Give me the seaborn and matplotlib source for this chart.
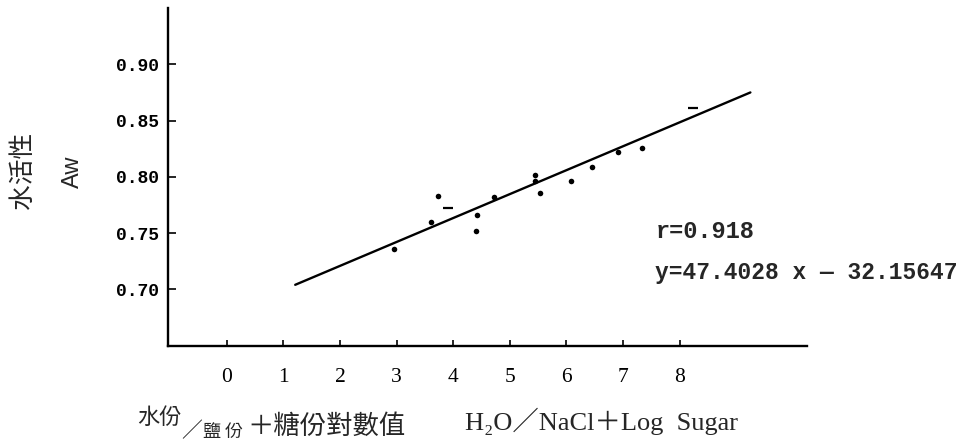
import matplotlib
matplotlib.use("Agg")
import matplotlib.pyplot as plt
import seaborn as sns
import pandas as pd

# ---- data ----
x_vals = [2.95, 3.61, 3.74, 4.42, 4.40, 4.72, 5.44, 5.44, 5.54, 6.09, 6.45, 6.92, 7.34]
y_vals = [0.736, 0.760, 0.783, 0.766, 0.752, 0.782, 0.802, 0.796, 0.786, 0.796, 0.809, 0.822, 0.826]
dash_x = [3.91, 8.23]
dash_y = [0.772, 0.861]
line_x = [1.21, 9.25]
line_y = [0.704, 0.875]
x_ticks = [0, 1, 2, 3, 4, 5, 6, 7, 8]
x_ticklabels = ["0", "1", "2", "3", "4", "5", "6", "7", "8"]
y_ticks = [0.70, 0.75, 0.80, 0.85, 0.90]
y_ticklabels = ["0.70", "0.75", "0.80", "0.85", "0.90"]
r_text = "r=0.918"
eq_text = "y=47.4028 x — 32.15647"

sns.set_style("ticks")
plt.rcParams["font.family"] = ["Liberation Serif", "Noto Sans CJK TC", "DejaVu Sans"]

W, H = 963, 443
fig = plt.figure(figsize=(W / 100, H / 100), dpi=100)
ax = fig.add_axes([168.4 / W, 1 - 346 / H, (807 - 168.4) / W, (346 - 8.3) / H])

pts = pd.DataFrame({"x": x_vals, "y": y_vals})
dash = pd.DataFrame({"x": dash_x, "y": dash_y})
line = pd.DataFrame({"x": line_x, "y": line_y})

sns.lineplot(data=line, x="x", y="y", ax=ax, color="black", linewidth=1.7)
sns.scatterplot(data=pts, x="x", y="y", ax=ax, color="black", s=16, linewidth=0)
sns.scatterplot(data=dash, x="x", y="y", ax=ax, color="black", marker="_", s=45, linewidth=1.6)

ax.set_xlim(-1.03, 10.25)
ax.set_ylim(0.6496, 0.9498)
ax.set_xticks(x_ticks)
ax.set_xticklabels(x_ticklabels, fontsize=15.5, family="Liberation Serif")
ax.set_yticks(y_ticks)
ax.set_yticklabels(y_ticklabels, fontsize=13, family="Liberation Mono", fontweight="bold")
ax.tick_params(axis="x", direction="in", length=4, width=1.2, pad=16, colors="black")
ax.tick_params(axis="y", direction="in", length=6, width=1.2, pad=7, colors="black")
ax.set_xlabel("")
ax.set_ylabel("")
for s in ["top", "right"]:
    ax.spines[s].set_visible(False)
for s in ["left", "bottom"]:
    ax.spines[s].set_linewidth(1.7)
    ax.spines[s].set_color("black")

# annotations
fig.text(656 / W, 1 - 232 / H, r_text, fontsize=17, family="Liberation Mono",
         fontweight="bold", ha="left", va="center")
fig.text(655 / W, 1 - 272 / H, eq_text, fontsize=16.5, family="Liberation Mono",
         fontweight="bold", ha="left", va="center")

# y-axis labels
fig.text(23 / W, 1 - 170 / H, "水活性", rotation=90, fontsize=18.5,
         family=["Noto Sans CJK TC"], ha="center", va="center")
fig.text(72.5 / W, 1 - 172 / H, "Aw", rotation=90, fontsize=17,
         family=["Liberation Sans"], ha="center", va="center")

# x-axis label (Chinese part with sub/superscript layout)
cjk = ["Noto Sans CJK TC", "DejaVu Sans"]
fig.text(137 / W, 1 - 417 / H, "水份", fontsize=16, family=cjk, ha="left", va="center")
fig.text(192 / W, 1 - 431 / H, "／", fontsize=15, family=cjk, ha="center", va="center")
fig.text(203 / W, 1 - 432 / H, "鹽 份", fontsize=13, family=cjk, ha="left", va="center")
fig.text(247 / W, 1 - 426 / H, "＋糖份對數值", fontsize=19, family=cjk, ha="left", va="center")
fig.text(465 / W, 1 - 430 / H, "H₂O／NaCl＋Log  Sugar", fontsize=19,
         family=["Liberation Serif", "Noto Sans CJK TC", "DejaVu Sans"],
         ha="left", va="baseline")

fig.savefig("out.png", dpi=100)
